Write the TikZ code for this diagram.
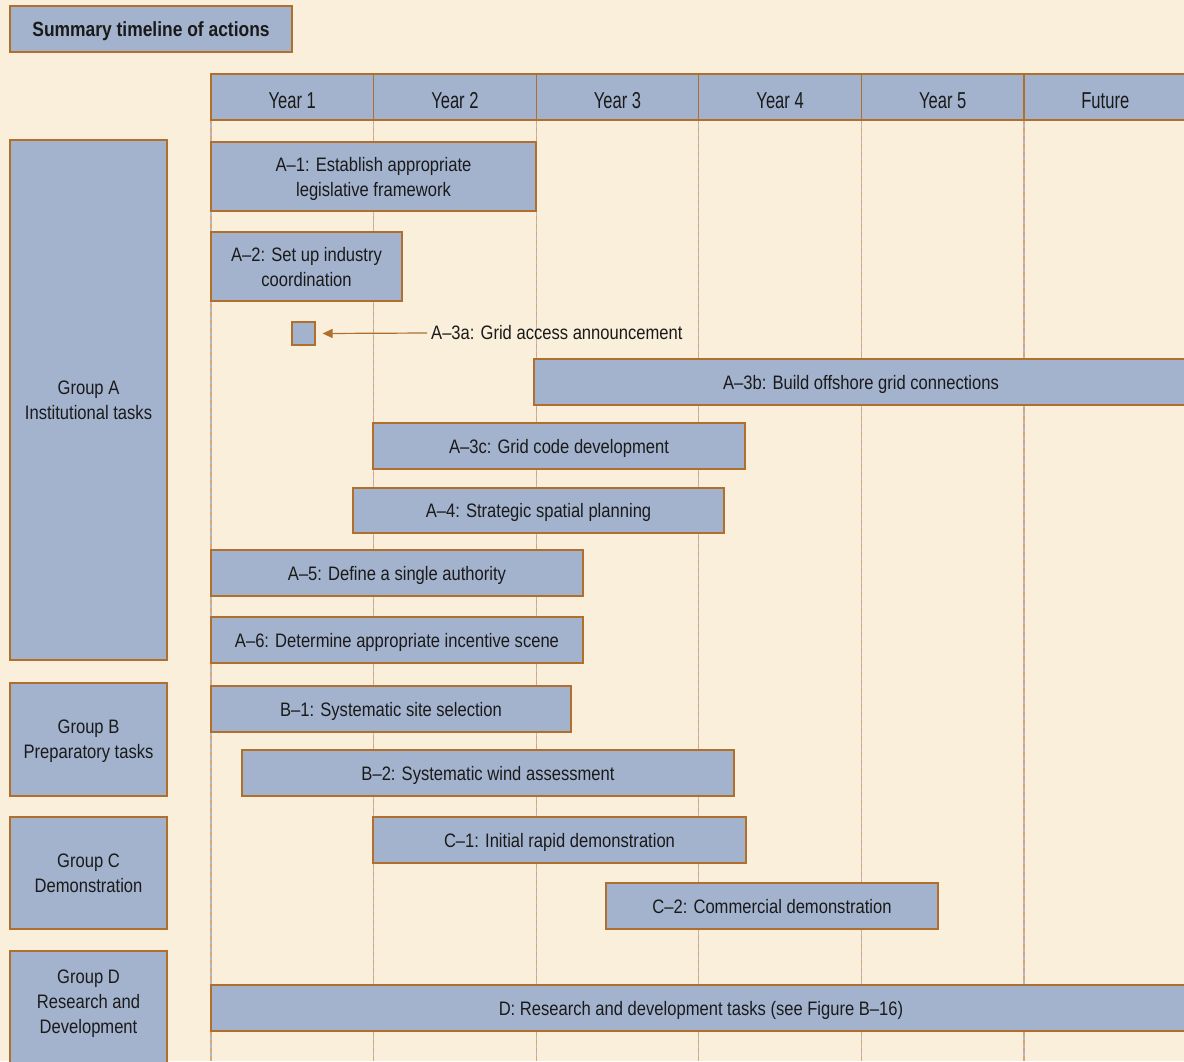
\documentclass[tikz,border=0pt]{standalone}
\usepackage{fontspec}
\setmainfont{Liberation Sans}[FakeStretch=0.85]
\usepackage{tikz}
\usetikzlibrary{calc, arrows.meta, positioning}
\usepackage{xcolor}
\definecolor{bgcol}{HTML}{FAEFDB}
\definecolor{boxcol}{HTML}{A3B3CE}
\definecolor{edgecol}{HTML}{B06F2C}
\definecolor{txtcol}{HTML}{1A1A1A}
\definecolor{gridgrey}{HTML}{B4B8C6}
\definecolor{gridorange}{HTML}{DDA670}

\tikzset{
	bar/.style={draw=edgecol, fill=boxcol, line width=1.2pt, inner sep=0pt, align=center, text=txtcol, text depth=0pt},
	grp/.style={bar, minimum width=157pt},
	yearcell/.style={bar, minimum width=162.6pt, minimum height=46pt, text height=22.5pt,
		font=\fontsize{23}{25}\selectfont\addfontfeatures{FakeStretch=0.72}},
	txt/.style={text=txtcol, inner sep=0pt, align=center}
}

\begin{document}
\begin{tikzpicture}[x=1pt, y=-1pt, font=\fontsize{19.5}{25}\selectfont]
		\fill[bgcol] (0,0) rectangle (1184,1061);
		\useasboundingbox (0,0) rectangle (1184,1061);
		\clip (0,0) rectangle (1184,1061);
		% dashed year lines
		\foreach \i in {0,...,5} {
			\draw[gridgrey, line width=1.3pt] (211+\i*162.6,120) -- (211+\i*162.6,1061);
			\draw[gridorange, line width=1.3pt, dash pattern=on 4pt off 4pt] (211+\i*162.6,120) -- (211+\i*162.6,1061);
		}
		% title
		\node[bar, minimum width=282pt, minimum height=46pt, font=\fontsize{20.5}{25}\selectfont\bfseries] (title) at (151,29) {Summary timeline of actions};
		% header row
		\foreach \i/\lab in {0/Year 1, 1/Year 2, 2/Year 3, 3/Year 4, 4/Year 5, 5/Future}
			\node[yearcell] (year\i) at (292.3+\i*162.6,97) {\lab};
		% groups
		\node[grp, minimum height=520pt] (grpA) at (88.5,400) {Group A\\Institutional tasks};
		\node[grp, minimum height=113pt] (grpB) at (88.5,739.5) {Group B\\Preparatory tasks};
		\node[grp, minimum height=112pt] (grpC) at (88.5,873) {Group C\\Demonstration};
		\node[grp, minimum height=120pt] (grpD) at (88.5,1011) {};
		\node[txt, text depth=0pt] (grpDtxt) at (88.5,1002) {Group D\\Research and\\Development};
		% tasks
		\node[bar, minimum width=325pt, minimum height=69pt] (taskAi) at (373.5,176.5) {A–1: Establish appropriate\\legislative framework};
		\node[bar, minimum width=191pt, minimum height=69pt] (taskAii) at (306.5,266.5) {A–2: Set up industry\\coordination};
		\node[bar, minimum width=23pt, minimum height=23pt] (taskAiiia) at (303.5,333.5) {};
		\node[txt, anchor=west] (lblAiiia) at (431,333) {A–3a: Grid access announcement};
		\draw[-{Triangle[length=10pt, width=9pt]}, edgecol, line width=1.2pt] ([xshift=-4pt]lblAiiia.west) -- ([xshift=7pt]taskAiiia.east);
		\node[bar, minimum width=654pt, minimum height=46pt] (taskAiiib) at (861,382) {A–3b: Build offshore grid connections};
		\node[bar, minimum width=372pt, minimum height=46pt] (taskAiiic) at (559,446) {A–3c: Grid code development};
		\node[bar, minimum width=371pt, minimum height=45pt] (taskAiv) at (538.5,510.5) {A–4: Strategic spatial planning};
		\node[bar, minimum width=372pt, minimum height=46pt] (taskAv) at (397,573) {A–5: Define a single authority};
		\node[bar, minimum width=372pt, minimum height=46pt] (taskAvi) at (397,640) {A–6: Determine appropriate incentive scene};
		\node[bar, minimum width=360pt, minimum height=46pt] (taskBi) at (391,709) {B–1: Systematic site selection};
		\node[bar, minimum width=492pt, minimum height=46pt] (taskBii) at (488,773) {B–2: Systematic wind assessment};
		\node[bar, minimum width=373pt, minimum height=46pt] (taskCi) at (559.5,840) {C–1: Initial rapid demonstration};
		\node[bar, minimum width=332pt, minimum height=46pt] (taskCii) at (772,906) {C–2: Commercial demonstration};
		\node[bar, minimum width=980pt, minimum height=46pt] (taskD) at (701,1008) {D: Research and development tasks (see Figure B–16)};
		\end{tikzpicture}
\end{document}
